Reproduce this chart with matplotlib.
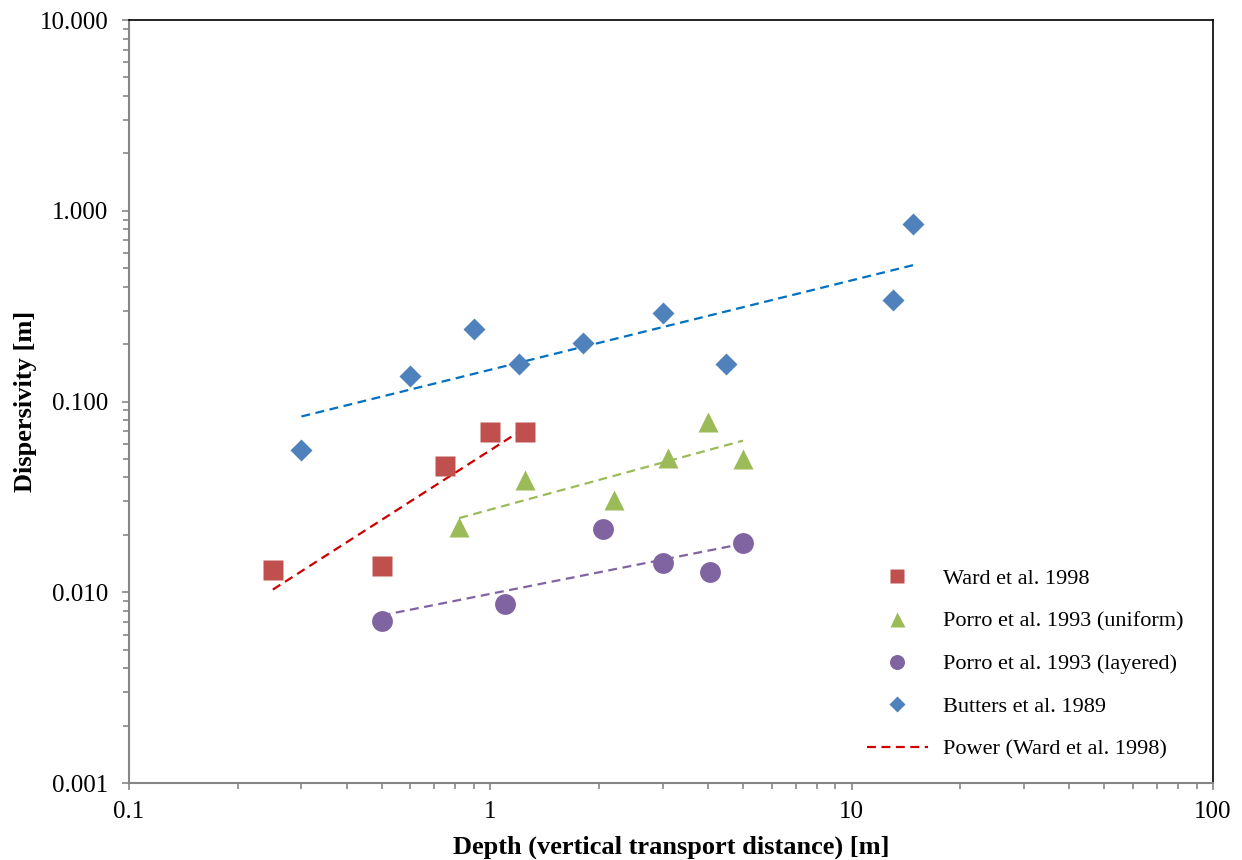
import numpy as np
import matplotlib
matplotlib.use("Agg")
import matplotlib.pyplot as plt
from matplotlib.ticker import FuncFormatter, LogLocator

# Dados de dispersividade por profundidade
ward_x = [0.25, 0.5, 0.75, 1.0, 1.25]
ward_y = [0.0131, 0.0137, 0.046, 0.069, 0.069]

porro_uni_x = [0.82, 1.25, 2.2, 3.1, 4.0, 5.0]
porro_uni_y = [0.022, 0.039, 0.0304, 0.0505, 0.078, 0.050]

porro_lay_x = [0.5, 1.1, 2.05, 3.0, 4.05, 5.0]
porro_lay_y = [0.0071, 0.0087, 0.0215, 0.0142, 0.0128, 0.0181]

butters_x = [0.3, 0.6, 0.9, 1.2, 1.8, 3.0, 4.5, 13.0, 14.8]
butters_y = [0.056, 0.136, 0.24, 0.157, 0.203, 0.291, 0.157, 0.34, 0.852]

labels = ["Ward et al. 1998", "Porro et al. 1993 (uniform)",
          "Porro et al. 1993 (layered)", "Butters et al. 1989",
          "Power (Ward et al. 1998)"]


def power_fit(x, y):
    # ajuste potencia: log y = b*log x + a
    b, a = np.polyfit(np.log10(x), np.log10(y), 1)
    xs = np.array([min(x), max(x)])
    return xs, 10**a * xs**b


plt.rcParams['font.family'] = ['Liberation Serif', 'DejaVu Serif']

fig = plt.figure(figsize=(12.42, 8.6), dpi=100)
ax = fig.add_axes([0.1039, 0.0895, 0.8728, 0.8872])

dash = dict(ls=(0, (4, 2.5)), lw=1.6)

xs, ys = power_fit(butters_x, butters_y)
ax.plot(xs, ys, color='#0070C0', **dash)
xs, ys = power_fit(porro_uni_x, porro_uni_y)
ax.plot(xs, ys, color='#9BBB59', **dash)
xs, ys = power_fit(porro_lay_x, porro_lay_y)
ax.plot(xs, ys, color='#8064A2', **dash)
xs, ys = power_fit(ward_x, ward_y)
ward_line, = ax.plot(xs, ys, color='#CC0000', **dash)

p1, = ax.plot(ward_x, ward_y, 's', color='#C0504D', ms=14.5, mec='none')
p2, = ax.plot(porro_uni_x, porro_uni_y, '^', color='#9BBB59', ms=15, mec='none')
p3, = ax.plot(porro_lay_x, porro_lay_y, 'o', color='#8064A2', ms=15, mec='none')
p4, = ax.plot(butters_x, butters_y, 'D', color='#4F81BD', ms=11.5, mec='none')

ax.set_xscale('log')
ax.set_yscale('log')
ax.set_xlim(0.1, 100)
ax.set_ylim(0.001, 10)

ax.xaxis.set_major_formatter(FuncFormatter(lambda v, p: '%g' % v))
ax.yaxis.set_major_formatter(FuncFormatter(lambda v, p: '%.3f' % v))
ax.xaxis.set_minor_locator(LogLocator(base=10, subs=np.arange(2, 10)))
ax.yaxis.set_minor_locator(LogLocator(base=10, subs=np.arange(2, 10)))
ax.xaxis.set_minor_formatter(FuncFormatter(lambda v, p: ''))
ax.yaxis.set_minor_formatter(FuncFormatter(lambda v, p: ''))

for s in ['left', 'bottom']:
    ax.spines[s].set_color('#868686')
    ax.spines[s].set_linewidth(1.5)
for s in ['top', 'right']:
    ax.spines[s].set_color('black')
    ax.spines[s].set_linewidth(1.2)

ax.tick_params(which='both', direction='out', color='#868686', width=1.2,
               top=False, right=False)
ax.tick_params(which='major', length=5, labelsize=18)
ax.tick_params(which='minor', length=4.5)
ax.tick_params(axis='y', which='major', pad=10)
ax.tick_params(axis='x', which='major', pad=8)

plt.xlabel('Depth (vertical transport distance) [m]', fontsize=19,
           fontweight='bold', labelpad=9)
plt.ylabel('Dispersivity [m]', fontsize=19, fontweight='bold', labelpad=2)

leg = ax.legend([p1, p2, p3, p4, ward_line], labels, loc='lower left',
                bbox_to_anchor=(0.662, 0.004), frameon=False, fontsize=16,
                labelspacing=1.0, handlelength=2.75, handletextpad=0.7,
                markerscale=0.72)

plt.savefig('out.png', dpi=100)
